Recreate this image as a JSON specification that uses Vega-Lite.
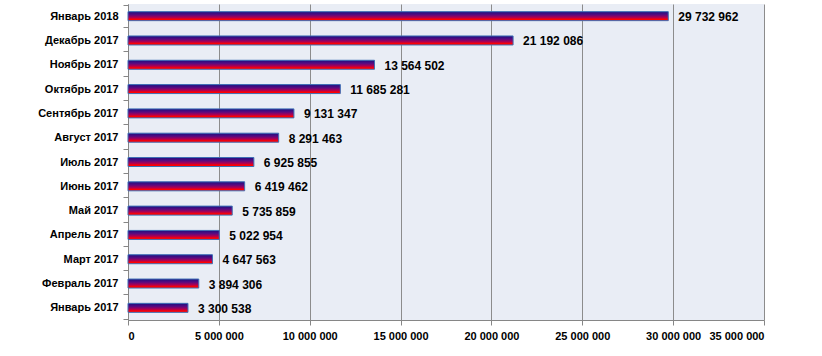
{
  "$schema": "https://vega.github.io/schema/vega-lite/v6.json",
  "width": 636,
  "height": 316,
  "autosize": {"type": "none"},
  "padding": {"left": 128, "top": 4, "right": 58, "bottom": 36},
  "background": "white",
  "config": {
    "locale": {"number": {"decimal": ",", "thousands": " ", "grouping": [3], "currency": ["", ""]}},
    "view": {"fill": "#E9EDF5", "stroke": null},
    "font": "Liberation Sans"
  },
  "data": {
    "values": [
      {"month": "Январь 2018", "value": 29732962},
      {"month": "Декабрь 2017", "value": 21192086},
      {"month": "Ноябрь 2017", "value": 13564502},
      {"month": "Октябрь 2017", "value": 11685281},
      {"month": "Сентябрь 2017", "value": 9131347},
      {"month": "Август 2017", "value": 8291463},
      {"month": "Июль 2017", "value": 6925855},
      {"month": "Июнь 2017", "value": 6419462},
      {"month": "Май 2017", "value": 5735859},
      {"month": "Апрель 2017", "value": 5022954},
      {"month": "Март 2017", "value": 4647563},
      {"month": "Февраль 2017", "value": 3894306},
      {"month": "Январь 2017", "value": 3300538}
    ]
  },
  "encoding": {
    "y": {
      "field": "month", "type": "nominal", "sort": null, "title": null,
      "axis": {
        "domainColor": "#868686", "tickColor": "#868686", "tickSize": 5,
        "tickBand": "extent", "labelFont": "Liberation Sans", "labelFontSize": 11,
        "labelFontWeight": "bold", "labelColor": "#000000", "labelPadding": 5
      }
    },
    "x": {
      "field": "value", "type": "quantitative", "title": null,
      "scale": {"domain": [0, 35000000], "nice": false},
      "axis": {
        "values": [0, 5000000, 10000000, 15000000, 20000000, 25000000, 30000000, 35000000],
        "format": ",d", "grid": true, "gridColor": "#8C8C8C", "gridWidth": 1,
        "domainColor": "#868686", "tickColor": "#868686", "tickSize": 5,
        "labelFont": "Liberation Sans", "labelFontSize": 11, "labelFontWeight": "bold",
        "labelColor": "#000000", "labelPadding": 5
      }
    }
  },
  "layer": [
    {
      "mark": {
        "type": "bar", "size": 9, "stroke": "#3F6FB5", "strokeWidth": 1,
        "fill": {
          "gradient": "linear", "x1": 0, "y1": 0, "x2": 0, "y2": 1,
          "stops": [
            {"offset": 0, "color": "#1A1080"},
            {"offset": 0.35, "color": "#5A0A80"},
            {"offset": 0.65, "color": "#B00050"},
            {"offset": 0.85, "color": "#FF0000"},
            {"offset": 1, "color": "#FF0000"}
          ]
        }
      }
    },
    {
      "mark": {"type": "text", "align": "left", "dx": 10, "dy": 1, "font": "Liberation Sans", "fontSize": 12, "fontWeight": "bold", "color": "#000000"},
      "encoding": {"text": {"field": "value", "type": "quantitative", "format": ",d"}}
    }
  ]
}
